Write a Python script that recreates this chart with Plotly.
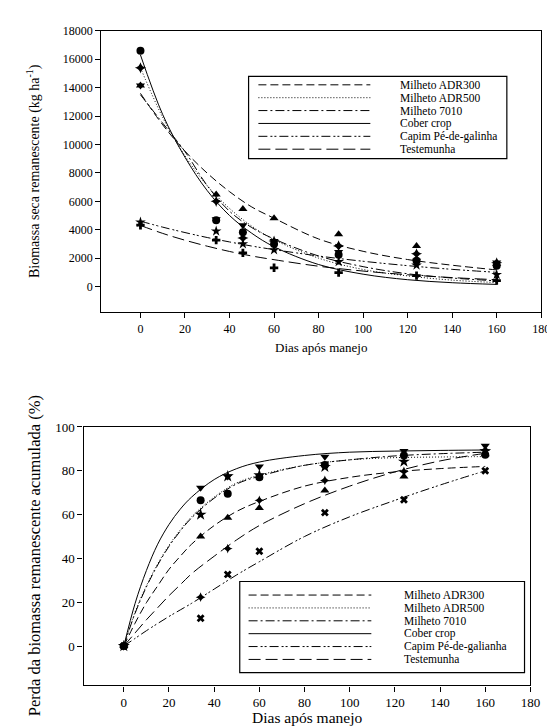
import plotly.graph_objects as go

W, H = 555, 726

# ---------------- data ----------------
series = ["Milheto ADR300", "Milheto ADR500", "Milheto 7010",
          "Cober crop", "Capim Pé-de-galinha", "Testemunha"]
series_bottom = ["Milheto ADR300", "Milheto ADR500", "Milheto 7010",
                 "Cober crop", "Capim Pé-de-galianha", "Testemunha"]
days = [0, 34, 46, 60, 89, 124, 160]

# Top: remaining dry biomass (kg/ha), observed
bio_adr300 = [14150, 6480, 5460, 4810, 3690, 2860, 1600]
bio_adr500 = [15400, 6000, 3410, 3200, 2860, 2300, 1670]
bio_7010 = [14150, 4740, 4320, 3200, 2440, 1810, 1700]
bio_cober = [16600, 4670, 3830, 3000, 2230, 1810, 1460]
bio_capim = [4530, 3900, 3000, 2580, 1740, 1500, 840]
bio_test = [4320, 3270, 2370, 1320, 980, 770, 420]

# Top: fitted curves
fit_days_top = [0, 10, 20, 30, 40, 50, 60, 80, 100, 120, 140, 160]
fit_adr300 = [13600, 11380, 9530, 7980, 6680, 5600, 4810, 3350, 2480, 1900, 1500, 1170]
fit_adr500 = [15400, 11900, 9200, 7100, 5500, 4250, 3300, 2000, 1200, 750, 450, 280]
fit_7010 = [13500, 11500, 9500, 7100, 5300, 4150, 3350, 2150, 1400, 900, 600, 400]
fit_cober = [16300, 12100, 9100, 6750, 5000, 3750, 2800, 1550, 870, 480, 270, 150]
fit_capim = [4600, 4180, 3800, 3450, 3140, 2850, 2600, 2150, 1780, 1470, 1210, 1000]
fit_test = [4300, 3740, 3260, 2840, 2470, 2150, 1890, 1430, 1090, 830, 630, 480]

# Bottom: accumulated loss (%), observed
loss_adr300 = [0, 50, 58.6, 63, 71, 77.4, 87.5]
loss_adr500 = [0, 60, 77.5, 78, 81.8, 84.2, 89]
loss_7010 = [0, 66.5, 69.5, 77, 82.7, 87, 87.3]
loss_cober = [0, 72.3, 77.4, 82, 86.4, 89, 91.4]
loss_capim = [0, 12.7, 32.7, 43.3, 60.9, 66.8, 80]
loss_test = [0, 22.3, 44.5, 66.5, 75.6, 79.7, 89.5]

# Bottom: fitted curves
fit_days_bot = [0, 5, 10, 15, 20, 25, 30, 40, 50, 60, 80, 100, 120, 140, 160]
lfit_adr300 = [0, 10.5, 19.8, 27.5, 35, 41, 46.5, 55, 61.5, 66, 73, 77, 79.5, 81, 82]
lfit_adr500 = [0, 15.5, 27.5, 37.5, 46, 53, 59, 68, 74.5, 78, 82.5, 85, 86, 86.3, 86.5]
lfit_7010 = [0, 15, 27, 37, 45.5, 52.5, 58.5, 67.5, 74, 77.5, 82.5, 85, 86.8, 87.8, 88.5]
lfit_cober = [0, 19.5, 34.5, 46.5, 55.5, 62.5, 68, 76, 81, 84, 87, 88.5, 89, 89.3, 89.5]
lfit_capim = [0, 3.5, 7, 10.3, 13.5, 16.5, 19.5, 26, 32.5, 38.5, 50, 59, 66.5, 73.5, 80]
lfit_test = [0, 6, 12, 17.5, 23, 28, 33, 41, 48.5, 55, 65, 73, 79.5, 84.5, 88]

x_ticks = [0, 20, 40, 60, 80, 100, 120, 140, 160, 180]
y_ticks_top = [0, 2000, 4000, 6000, 8000, 10000, 12000, 14000, 16000, 18000]
y_ticks_bot = [0, 20, 40, 60, 80, 100]

# ---------------- styles ----------------
dashes = ["8px,4px", "1px,2px", "9px,3px,2px,3px", "solid",
          "9px,3px,2px,2px,2px,3px", "12px,5px"]
top_symbols = ["triangle-up", "star-diamond", "triangle-down", "circle", "star", "cross"]
bot_symbols = ["triangle-up", "star", "circle", "triangle-down", "x", "star-diamond"]
top_sizes = [8, 8, 8, 8, 8, 7]
bot_sizes = [8, 9, 8, 8, 7, 7]

top_obs = [bio_adr300, bio_adr500, bio_7010, bio_cober, bio_capim, bio_test]
top_fit = [fit_adr300, fit_adr500, fit_7010, fit_cober, fit_capim, fit_test]
bot_obs = [loss_adr300, loss_adr500, loss_7010, loss_cober, loss_capim, loss_test]
bot_fit = [lfit_adr300, lfit_adr500, lfit_7010, lfit_cober, lfit_capim, lfit_test]

FONT = "Liberation Serif, Times New Roman, Times, serif"
fig = go.Figure()

for i, name in enumerate(series):
    fig.add_trace(go.Scatter(x=fit_days_top, y=top_fit[i], mode="lines", name=name,
                             line=dict(color="black", width=1, dash=dashes[i], shape="spline"),
                             xaxis="x", yaxis="y", showlegend=False, hoverinfo="skip"))
for i, name in enumerate(series):
    fig.add_trace(go.Scatter(x=days, y=top_obs[i], mode="markers", name=name,
                             marker=dict(color="black", size=top_sizes[i], symbol=top_symbols[i],
                                         line=dict(width=0)),
                             xaxis="x", yaxis="y", showlegend=False))
for i, name in enumerate(series_bottom):
    fig.add_trace(go.Scatter(x=fit_days_bot, y=bot_fit[i], mode="lines", name=name,
                             line=dict(color="black", width=1, dash=dashes[i], shape="spline"),
                             xaxis="x2", yaxis="y2", showlegend=False, hoverinfo="skip"))
for i, name in enumerate(series_bottom):
    fig.add_trace(go.Scatter(x=days, y=bot_obs[i], mode="markers", name=name,
                             marker=dict(color="black", size=bot_sizes[i], symbol=bot_symbols[i],
                                         line=dict(width=0)),
                             xaxis="x2", yaxis="y2", showlegend=False))


def px(x):
    return x / W


def py(y):
    return 1 - y / H


axis_common = dict(showline=True, linecolor="black", linewidth=1.3, mirror=True,
                   showgrid=False, zeroline=False, ticks="outside", ticklen=5,
                   tickcolor="black", tickwidth=1.2, tickformat="d")

fig.update_layout(
    width=W, height=H, margin=dict(l=0, r=0, t=0, b=0),
    paper_bgcolor="white", plot_bgcolor="white", showlegend=False,
    font=dict(family=FONT, color="black"),
    xaxis=dict(domain=[px(95), px(543)], range=[-17.6, 180], tickvals=x_ticks,
               anchor="y", tickfont=dict(size=12, family=FONT), **axis_common),
    yaxis=dict(domain=[py(300), py(16)], range=[-1800, 18000], tickvals=y_ticks_top,
               anchor="x", tickfont=dict(size=12, family=FONT), **axis_common),
    xaxis2=dict(domain=[px(77), px(532)], range=[-17.8, 180], tickvals=x_ticks,
                anchor="y2", tickfont=dict(size=13, family=FONT), **axis_common),
    yaxis2=dict(domain=[py(677), py(416)], range=[-18, 100], tickvals=y_ticks_bot,
                anchor="x2", tickfont=dict(size=13, family=FONT), **axis_common),
)

annotations = [
    dict(text="Dias após manejo", x=px(319), y=py(336), xref="paper", yref="paper",
         showarrow=False, font=dict(size=13, family=FONT), xanchor="center", yanchor="middle"),
    dict(text="Biomassa seca remanescente (kg ha<sup>-1</sup>)", x=px(26), y=py(158),
         xref="paper", yref="paper", showarrow=False, textangle=-90,
         font=dict(size=14, family=FONT), xanchor="center", yanchor="middle"),
    dict(text="Dias após manejo", x=px(304), y=py(709), xref="paper", yref="paper",
         showarrow=False, font=dict(size=15.5, family=FONT), xanchor="center", yanchor="middle"),
    dict(text="Perda da biomassa remanescente acumulada (%)", x=px(27), y=py(546),
         xref="paper", yref="paper", showarrow=False, textangle=-90,
         font=dict(size=16.5, family=FONT), xanchor="center", yanchor="middle"),
]

shapes = []
# custom legends (layout, not data)
legends = [
    dict(box=(245, 62, 508, 145), x0=255, x1=369, tx=397, y0=70.5, dy=13.0, names=series, fs=11.5),
    dict(box=(236, 572, 526, 664), x0=245, x1=370, tx=401, y0=585.7, dy=13.0, names=series_bottom, fs=11.5),
]
for lg in legends:
    bx0, by0, bx1, by1 = lg["box"]
    shapes.append(dict(type="rect", xref="paper", yref="paper",
                       x0=px(bx0), x1=px(bx1), y0=py(by1), y1=py(by0),
                       line=dict(color="black", width=1.2), fillcolor="white", layer="above"))
    for i, name in enumerate(lg["names"]):
        yy = lg["y0"] + i * lg["dy"]
        shapes.append(dict(type="line", xref="paper", yref="paper",
                           x0=px(lg["x0"]), x1=px(lg["x1"]), y0=py(yy), y1=py(yy),
                           line=dict(color="black", width=1, dash=dashes[i]), layer="above"))
        annotations.append(dict(text=name, x=px(lg["tx"]), y=py(yy), xref="paper", yref="paper",
                                showarrow=False, xanchor="left", yanchor="middle",
                                font=dict(size=lg["fs"], family=FONT)))

fig.update_layout(annotations=annotations, shapes=shapes)
fig.write_html("out.html")
